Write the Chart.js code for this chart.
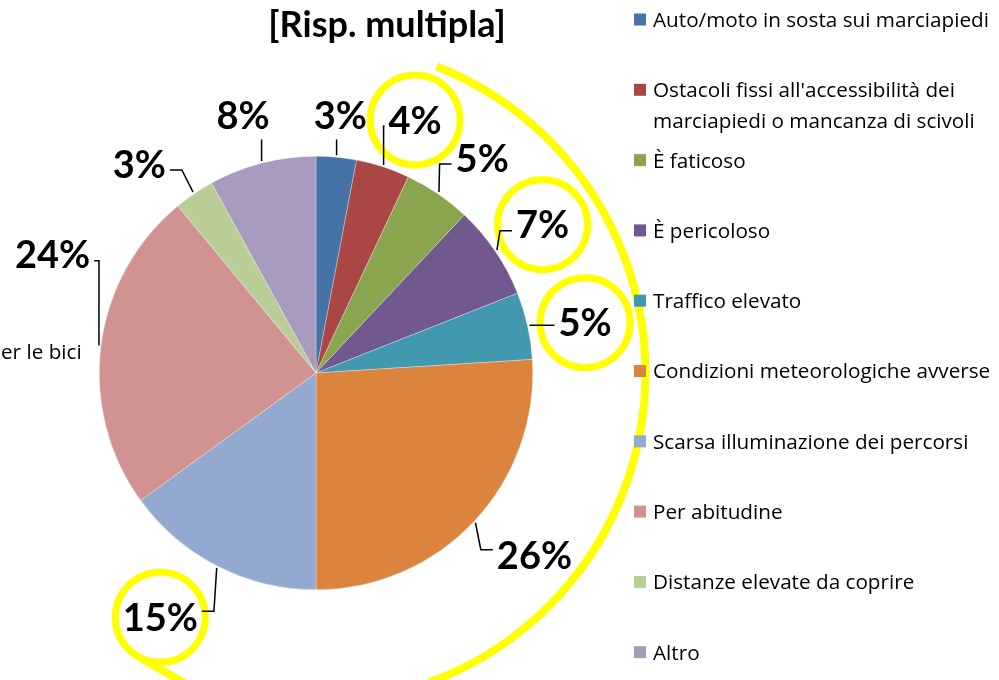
<!DOCTYPE html>
<html>
<head>
<meta charset="utf-8">
<script src="https://cdn.jsdelivr.net/npm/chart.js@4.4.1/dist/chart.umd.min.js"></script>
<style>
  html, body { margin: 0; padding: 0; background: #fff; }
  #wrap { width: 999px; height: 680px; position: relative; }
</style>
</head>
<body>
<div id="wrap"><canvas id="pie"></canvas></div>
<script>
var categories = [
    "Auto/moto in sosta sui marciapiedi",
    ["Ostacoli fissi all'accessibilità dei", "marciapiedi o mancanza di scivoli"],
    "È faticoso",
    "È pericoloso",
    "Traffico elevato",
    "Condizioni meteorologiche avverse",
    "Scarsa illuminazione dei percorsi",
    "Per abitudine",
    "Distanze elevate da coprire",
    "Altro"
];
var percents = [3, 4, 5, 7, 5, 26, 15, 24, 3, 8];
var sliceColors = ["#4572A7", "#AA4643", "#89A54E", "#71588F", "#4198AF",
                   "#DB843D", "#93A9CF", "#D19392", "#B9CD96", "#A99BBD"];
var circled = [1, 3, 4, 6];   // labels with a yellow ring round them

// label placement: [angle nudge in degrees, distance beyond the pie edge]
var labelTweak = [[0, 42], [3.4, 55], [3.5, 55], [1, 54], [2, 57],
                  [-3.3, 68], [5.5, 73], [17, 72], [-6, 57], [-1.4, 51]];

var FONT = "Lato";
var TEXT_FONT = "'Open Sans'";
var TEXT_SIZE = 20.7;
var YELLOW = "#FFFF00";

function labelSpots(chart) {
    var ctx = chart.ctx;
    var arcs = chart.getDatasetMeta(0).data;
    ctx.font = "bold 38px " + FONT;
    return arcs.map(function(a, i) {
        var mid = (a.startAngle + a.endAngle) / 2;
        var ang = mid + labelTweak[i][0] * Math.PI / 180;
        var d = a.outerRadius + labelTweak[i][1];
        var txt = percents[i] + "%";
        return {
            text: txt,
            x: a.x + Math.cos(ang) * d,
            y: a.y + Math.sin(ang) * d,
            w: ctx.measureText(txt).width,
            px: a.x + Math.cos(mid) * (a.outerRadius + 2),
            py: a.y + Math.sin(mid) * (a.outerRadius + 2)
        };
    });
}

var decor = {
    id: "decor",
    afterDatasetsDraw: function(chart) {
        var ctx = chart.ctx;
        var spots = labelSpots(chart);
        var a0 = chart.getDatasetMeta(0).data[0];
        ctx.save();
        ctx.strokeStyle = YELLOW;
        // big sweep round the right side
        ctx.lineWidth = 8;
        ctx.beginPath();
        ctx.arc(a0.x, a0.y, a0.outerRadius * 1.52, (21.5 - 90) * Math.PI / 180, (160 - 90) * Math.PI / 180);
        ctx.stroke();
        // rings
        ctx.lineWidth = 7;
        circled.forEach(function(i) {
            var s = spots[i];
            ctx.beginPath();
            ctx.arc(s.x, s.y, 45, 0, Math.PI * 2);
            ctx.stroke();
        });
        // tail of the ring on 15%
        var s6 = spots[6];
        ctx.lineWidth = 8;
        ctx.beginPath();
        ctx.moveTo(s6.x - 19, s6.y + 41);
        ctx.lineTo(s6.x + 35, s6.y + 72);
        ctx.stroke();
        ctx.restore();
    },
    afterDraw: function(chart) {
        var ctx = chart.ctx;
        var spots = labelSpots(chart);
        ctx.save();

        // leader lines
        ctx.strokeStyle = "#000";
        ctx.lineWidth = 1.5;
        spots.forEach(function(s) {
            var hw = s.w / 2 + 4, hh = 24;
            var l = s.x - hw, r = s.x + hw, t = s.y - hh, b = s.y + hh;
            ctx.beginPath();
            ctx.moveTo(s.px, s.py);
            if (s.px < l || s.px > r) {
                var sx = s.px < l ? l : r;
                var qy = Math.min(Math.max(s.py, s.y - 6), s.y + 6);
                var dir = s.px < l ? -1 : 1;
                var ex = sx + dir * Math.min(12, Math.abs(s.px - sx));
                ctx.lineTo(ex, qy);
                ctx.lineTo(sx, qy);
            } else {
                ctx.lineTo(s.px, s.py > s.y ? b : t);
            }
            ctx.stroke();
        });

        // percentage labels
        ctx.fillStyle = "#000";
        ctx.font = "bold 38px " + FONT;
        ctx.textAlign = "center";
        ctx.textBaseline = "alphabetic";
        spots.forEach(function(s) {
            ctx.fillText(s.text, s.x, s.y + 38 * 0.36);
        });

        // title
        ctx.font = "bold 36px " + FONT;
        ctx.fillText("[Risp. multipla]", 387, 24 + 36 * 0.36);

        // stray text clipped at the left edge
        ctx.font = TEXT_SIZE + "px " + TEXT_FONT;
        ctx.textAlign = "left";
        ctx.fillText("er le bici", 1, 352 + TEXT_SIZE * 0.36);

        // legend
        categories.forEach(function(c, i) {
            var y = 19.5 + i * 70.3;
            ctx.fillStyle = sliceColors[i];
            ctx.fillRect(634, y - 6, 12, 12);
            ctx.fillStyle = "#000";
            var lines = Array.isArray(c) ? c : [c];
            lines.forEach(function(line, k) {
                ctx.fillText(line, 653, y + k * 31 + TEXT_SIZE * 0.36);
            });
        });
        ctx.restore();
    }
};

Chart.defaults.font.family = FONT;

new Chart(document.getElementById("pie").getContext("2d"), {
    type: "pie",
    data: {
        labels: categories,
        datasets: [{
            data: percents,
            backgroundColor: sliceColors,
            borderColor: "rgba(255,255,255,0.6)",
            borderWidth: 0.5
        }]
    },
    options: {
        responsive: true,
        maintainAspectRatio: false,
        animation: false,
        layout: {
            padding: { left: 99, right: 466, top: 156, bottom: 90 }
        },
        plugins: {
            legend: { display: false },
            title: { display: false },
            tooltip: { enabled: false }
        }
    },
    plugins: [decor]
});
</script>
</body>
</html>
